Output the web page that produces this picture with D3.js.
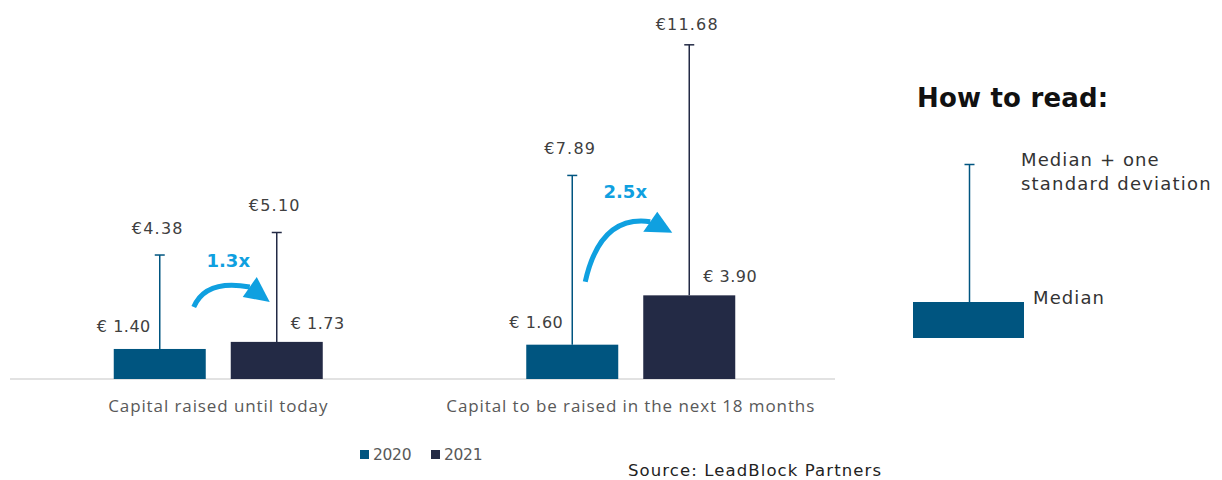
<!DOCTYPE html>
<html>
<head>
<meta charset="utf-8">
<script src="https://cdn.jsdelivr.net/npm/d3@7"></script>
<style>
  html, body { margin: 0; padding: 0; background: #fff; }
  svg { display: block; }
</style>
</head>
<body>
<svg id="chart" width="1222" height="480"></svg>
<script>
// ---- data ----
const categories = ["Capital raised until today", "Capital to be raised in the next 18 months"];
const years = ["2020", "2021"];
const median2020 = [1.40, 1.60];
const median2021 = [1.73, 3.90];
const sd2020 = [4.38, 7.89];
const sd2021 = [5.10, 11.68];
const multipliers = ["1.3x", "2.5x"];
const yearColors = ["#005580", "#232A45"];

const svg = d3.select("#chart");
const baseY = 379;
const x0 = d3.scaleBand().domain(categories).range([12, 837]);
const x1 = d3.scaleBand().domain(years)
  .range([x0.bandwidth()/2 - 104.5, x0.bandwidth()/2 + 104.5])
  .paddingInner(25/117).paddingOuter(0);
const y = d3.scaleLinear().domain([0, 16]).range([baseY, baseY - 16 * 21.45]);
const color = d3.scaleOrdinal().domain(years).range(yearColors);

const rows = [];
categories.forEach((c, i) => {
  rows.push({cat: c, year: "2020", med: median2020[i], sd: sd2020[i], idx: i});
  rows.push({cat: c, year: "2021", med: median2021[i], sd: sd2021[i], idx: i});
});

// baseline
svg.append("line").attr("x1", 10).attr("x2", 835).attr("y1", baseY).attr("y2", baseY)
  .attr("stroke", "#d9d9d9").attr("stroke-width", 1.5);
const xAxis = d3.axisBottom(x0).tickSize(0).tickPadding(20.5);
const ax = svg.append("g").attr("transform", `translate(0,${baseY})`).call(xAxis);
ax.select(".domain").remove();
ax.selectAll("text").attr("font-family", "'Open Sans', sans-serif").attr("font-size", 17)
  .attr("fill", "#595959").attr("dy", "0.71em").attr("letter-spacing", "0.9px");

const g = svg.append("g");
const bx = d => x0(d.cat) + x1(d.year);
const cx = d => bx(d) + x1.bandwidth()/2;

// error bars
g.selectAll("line.err").data(rows).join("line").attr("class", "err")
  .attr("x1", cx).attr("x2", cx)
  .attr("y1", d => y(d.med)).attr("y2", d => y(d.med + d.sd))
  .attr("stroke", d => color(d.year)).attr("stroke-width", 1.5);
g.selectAll("line.cap").data(rows).join("line").attr("class", "cap")
  .attr("x1", d => cx(d) - 5).attr("x2", d => cx(d) + 5)
  .attr("y1", d => y(d.med + d.sd)).attr("y2", d => y(d.med + d.sd))
  .attr("stroke", d => color(d.year)).attr("stroke-width", 1.5);

// bars
g.selectAll("rect.bar").data(rows).join("rect").attr("class", "bar")
  .attr("x", bx).attr("width", x1.bandwidth())
  .attr("y", d => y(d.med)).attr("height", d => baseY - y(d.med))
  .attr("fill", d => color(d.year));

const lblFont = "'DejaVu Sans', sans-serif";
// sd labels
g.selectAll("text.sd").data(rows).join("text").attr("class", "sd")
  .attr("x", d => cx(d) - 2).attr("y", d => Math.max(30, y(d.med + d.sd) - 21))
  .attr("text-anchor", "middle")
  .attr("font-family", lblFont).attr("font-size", 16).attr("fill", "#404040")
  .attr("letter-spacing", "1.2px")
  .text(d => "€" + d.sd.toFixed(2));

// median labels
g.selectAll("text.med").data(rows).join("text").attr("class", "med")
  .attr("x", d => d.year === "2020" ? cx(d) - 9 : cx(d) + 14)
  .attr("y", d => d.year === "2020" ? y(d.med) - 17 : y(d.med) - 13)
  .attr("text-anchor", d => d.year === "2020" ? "end" : "start")
  .attr("font-family", lblFont).attr("font-size", 16).attr("fill", "#404040")
  .attr("letter-spacing", "0.5px")
  .text(d => "€ " + d.med.toFixed(2));

// growth arrows
const blue = "#0FA0E0";
categories.forEach((c, i) => {
  const a = rows[i*2], b = rows[i*2 + 1];
  const xa = cx(a), xb = cx(b), ya = y(a.med);
  let tail, ctrl, end, tip, h1, h2, tx, ty;
  if (i === 0) {
    tail = [xa + 34, ya - 42];
    ctrl = [xa + 46, ya - 70];
    end = [xa + 90, ya - 62];
    h1 = [xa + 83, ya - 52];
    h2 = [xa + 97, ya - 72];
    tip = [xb - 7, ya - 47];
    tx = xa + 68.5; ty = ya - 88;
  } else {
    tail = [xa + 13, ya - 63];
    ctrl = [xa + 28, ya - 130];
    end = [xa + 78, ya - 123];
    h1 = [xa + 71, ya - 113];
    h2 = [xa + 85, ya - 133];
    tip = [xb - 17, ya - 112];
    tx = xa + 53; ty = ya - 153;
  }
  g.append("path")
    .attr("d", `M${tail[0]},${tail[1]} Q${ctrl[0]},${ctrl[1]} ${end[0]},${end[1]}`)
    .attr("fill", "none").attr("stroke", blue).attr("stroke-width", 5);
  g.append("path")
    .attr("d", `M${h1[0]},${h1[1]} L${h2[0]},${h2[1]} L${tip[0]},${tip[1]} Z`)
    .attr("fill", blue);
  g.append("text").attr("x", tx).attr("y", ty).attr("text-anchor", "middle")
    .attr("dominant-baseline", "central")
    .attr("font-family", "'DejaVu Sans', sans-serif").attr("font-weight", "bold")
    .attr("font-size", 18).attr("fill", blue).text(multipliers[i]);
});

// bottom legend
const leg = svg.append("g").attr("transform", "translate(360,450)");
years.forEach((yr, i) => {
  const lg = leg.append("g").attr("transform", `translate(${i * 71},0)`);
  lg.append("rect").attr("width", 9).attr("height", 9).attr("fill", color(yr));
  lg.append("text").attr("x", 13).attr("y", 5).attr("dominant-baseline", "central")
    .attr("font-family", lblFont).attr("font-size", 15.5).attr("fill", "#595959")
    .attr("letter-spacing", "-0.3px").text(yr);
});

// source
svg.append("text").attr("x", 628).attr("y", 476)
  .attr("font-family", "'DejaVu Sans', sans-serif").attr("font-size", 16.5).attr("fill", "#222")
  .attr("letter-spacing", "1.1px").text("Source: LeadBlock Partners");

// How to read
const how = svg.append("g");
const hf = "'DejaVu Sans', sans-serif";
how.append("text").attr("x", 917).attr("y", 106.5)
  .attr("font-family", hf).attr("font-weight", "bold")
  .attr("font-size", 26).attr("fill", "#111").attr("letter-spacing", "0.2px").text("How to read:");
const hx = 969.5;
how.append("line").attr("x1", hx).attr("x2", hx).attr("y1", 164.5).attr("y2", 302)
  .attr("stroke", yearColors[0]).attr("stroke-width", 1.5);
how.append("line").attr("x1", hx - 5).attr("x2", hx + 5).attr("y1", 164.5).attr("y2", 164.5)
  .attr("stroke", yearColors[0]).attr("stroke-width", 1.5);
how.append("rect").attr("x", 913).attr("y", 302).attr("width", 111).attr("height", 36)
  .attr("fill", yearColors[0]);
how.append("text").attr("x", 1021).attr("y", 165.5)
  .attr("font-family", hf).attr("font-size", 18).attr("fill", "#333")
  .attr("letter-spacing", "1.1px").text("Median + one");
how.append("text").attr("x", 1021).attr("y", 190)
  .attr("font-family", hf).attr("font-size", 18).attr("fill", "#333")
  .attr("letter-spacing", "1.2px").text("standard deviation");
how.append("text").attr("x", 1033).attr("y", 303.5)
  .attr("font-family", hf).attr("font-size", 18).attr("fill", "#333")
  .attr("letter-spacing", "1.1px").text("Median");
</script>
</body>
</html>
